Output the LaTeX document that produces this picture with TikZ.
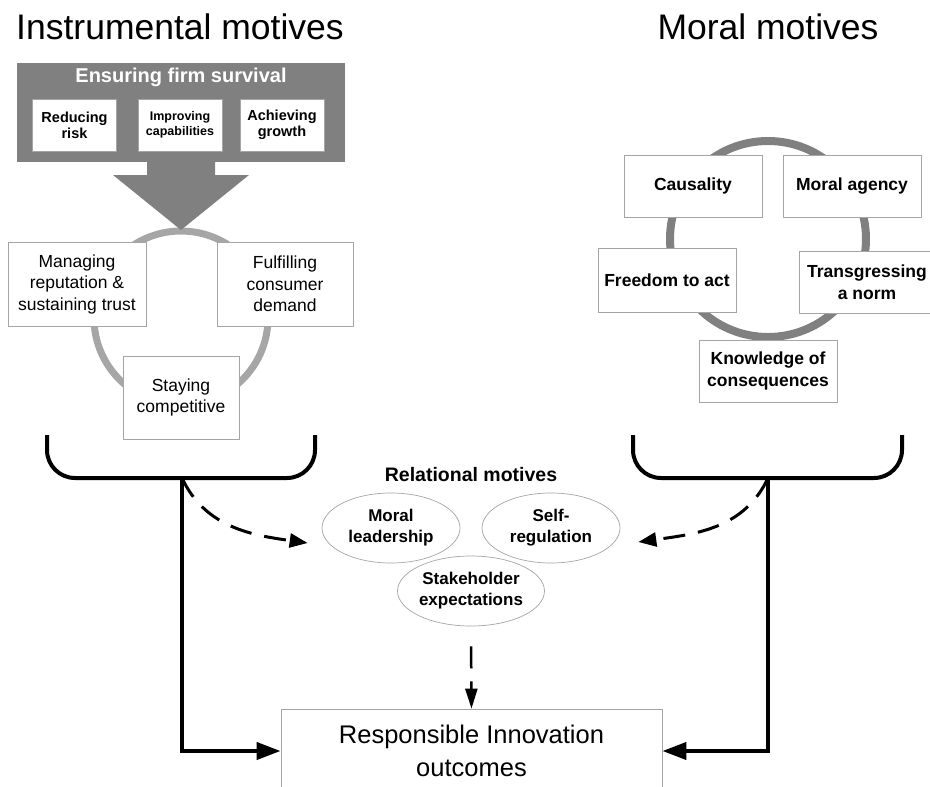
\documentclass[tikz,border=0pt]{standalone}
\usepackage{fontspec}
\setmainfont{Liberation Sans}
\usepackage{tikz}
\usetikzlibrary{arrows.meta,shapes.geometric}

\definecolor{darkgrey}{RGB}{128,128,128}
\definecolor{lightgrey}{RGB}{166,166,166}
\definecolor{edgegrey}{RGB}{165,165,165}

\newcommand{\fs}[2]{\fontsize{#1}{#2}\selectfont}

\tikzset{
  heading/.style={inner sep=0pt, font=\fs{35.5}{40}},
  plainbox/.style={rectangle, draw=edgegrey, line width=0.8pt, fill=white,
    align=center, inner sep=0pt, font=\fs{17.5}{21.5}},
  boldbox/.style={plainbox, font=\bfseries\fs{17.5}{22}},
  survbox/.style={rectangle, draw=edgegrey, line width=0.6pt, fill=white,
    align=center, inner sep=0pt, minimum width=84pt, minimum height=52pt,
    font=\bfseries\fs{14.5}{16}},
  relell/.style={ellipse, draw=edgegrey, line width=0.7pt, fill=white,
    align=center, inner sep=0pt, minimum width=138pt, minimum height=70pt,
    font=\bfseries\fs{17}{21}},
  bracket/.style={line width=4pt, rounded corners=28pt},
  solidflow/.style={line width=4pt, -{Triangle[length=24pt,width=17pt]}},
  dashflow/.style={line width=3pt, dash pattern=on 22pt off 13pt,
    -{Triangle[length=18pt,width=14pt]}}
}

\begin{document}
\begin{tikzpicture}[x=1pt,y=-1pt]
  \useasboundingbox (0,0) rectangle (930,787);

  % Headings
  \node[heading] (instr) at (180,27) {Instrumental motives};
  \node[heading] (moral) at (768,27) {Moral motives};

  % Rings behind the motive boxes
  \draw[lightgrey, line width=7pt] (181,318) circle[radius=87pt];
  \draw[darkgrey, line width=8pt] (768,239) circle[radius=98pt];

  % Ensuring firm survival, with its arrow
  \node[rectangle, fill=darkgrey, minimum width=328pt, minimum height=99pt] (survival) at (181,112.5) {};
  \fill[darkgrey] (147,160) -- (147,175) -- (113,175) -- (181,230) -- (249,175) -- (215,175) -- (215,160) -- cycle;
  \node[text=white, font=\bfseries\fs{20}{24}] (survtitle) at (181,77) {Ensuring firm survival};
  \node[survbox] (risk) at (74.5,125) {Reducing\\risk};
  \node[survbox, font=\bfseries\fs{12.5}{15}] (capab) at (180,125) {Improving\\capabilities};
  \node[survbox] (growth) at (282,125) {Achieving\\growth};

  % Instrumental motives
  \node[plainbox, minimum width=138pt, minimum height=84pt] (reput) at (77,284) {Managing\\reputation \&\\sustaining trust};
  \node[plainbox, minimum width=136pt, minimum height=84pt] (demand) at (285,284) {Fulfilling\\consumer\\demand};
  \node[plainbox, minimum width=116pt, minimum height=83pt] (compet) at (181,397.5) {Staying\\competitive};

  % Moral motives
  \node[boldbox, minimum width=138pt, minimum height=62pt] (causal) at (693,186) {Causality};
  \node[boldbox, minimum width=138pt, minimum height=62pt] (agency) at (852,186) {Moral agency};
  \node[boldbox, minimum width=138pt, minimum height=64pt] (freedom) at (667,280) {Freedom to act};
  \node[boldbox, minimum width=136pt, minimum height=62pt] (transgr) at (867,282) {Transgressing\\a norm};
  \node[boldbox, minimum width=138pt, minimum height=62pt] (knowl) at (768,371) {Knowledge of\\consequences};

  % Brackets
  \draw[bracket] (47,435) -- (47,478) -- (315,478) -- (315,435);
  \draw[bracket] (633,435) -- (633,478) -- (902,478) -- (902,435);
  \coordinate (lstem) at (182,478);
  \coordinate (rstem) at (768,478);

  % Relational motives
  \node[font=\bfseries\fs{19.5}{24}] (relat) at (471,475) {Relational motives};
  \node[relell] (leader) at (391,528) {Moral\\leadership};
  \node[relell] (selfreg) at (551,528) {Self-\\regulation};
  \node[relell] (stake) at (471,591) {Stakeholder\\expectations};

  % Outcomes
  \node[plainbox, minimum width=381pt, minimum height=84pt, font=\fs{25.5}{33}] (outcome) at (471.5,751) {Responsible Innovation\\outcomes};

  % Flows
  \draw[solidflow] (lstem) |- (outcome.west);
  \draw[solidflow] (rstem) |- (outcome.east);
  \draw[dashflow] (lstem) to[out=-65,in=172] ([xshift=-14pt,yshift=-15pt]leader.west);
  \draw[dashflow] (rstem) to[out=-115,in=8] ([xshift=18pt,yshift=-14pt]selfreg.east);
  \draw[dashflow, line width=2.5pt, shorten <=20pt, -{Triangle[length=20pt,width=12pt]}] (stake.south) -- (outcome.north);
\end{tikzpicture}
\end{document}
